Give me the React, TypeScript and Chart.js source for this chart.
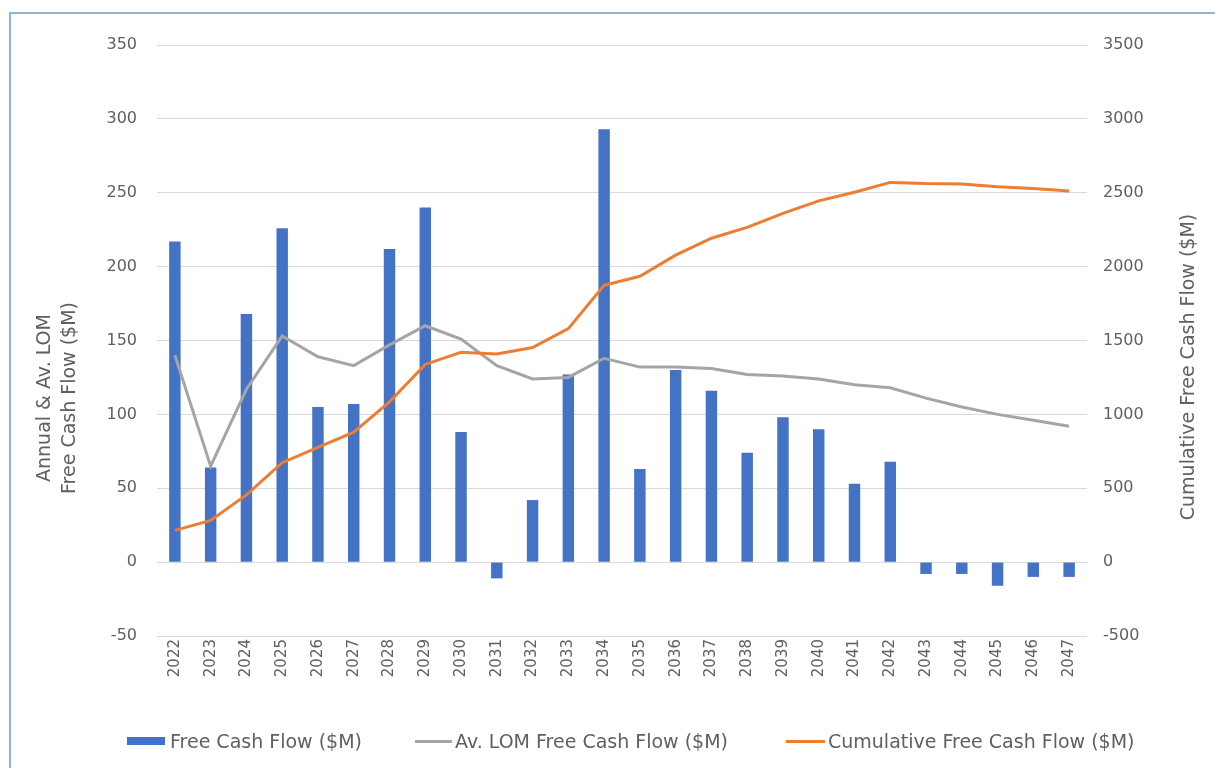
import React, { useEffect, useRef } from "react";
import { Chart, registerables } from "chart.js";

Chart.register(...registerables);

const years = [
  "2022", "2023", "2024", "2025", "2026", "2027", "2028", "2029", "2030", "2031", "2032", "2033", "2034",
  "2035", "2036", "2037", "2038", "2039", "2040", "2041", "2042", "2043", "2044", "2045", "2046", "2047",
];
const freeCashFlow = [217, 64, 168, 226, 105, 107, 212, 240, 88, -11, 42, 127, 293, 63, 130, 116, 74, 98, 90, 53, 68, -8, -8, -16, -10, -10];
const avLomFreeCashFlow = [140, 65, 117, 153, 139, 133, 147, 160, 151, 133, 124, 125, 138, 132, 132, 131, 127, 126, 124, 120, 118, 111, 105, 100, 96, 92];
const cumulativeFreeCashFlow = [215, 282, 455, 673, 776, 880, 1085, 1338, 1420, 1408, 1452, 1580, 1873, 1935, 2078, 2192, 2266, 2360, 2445, 2503, 2570, 2562, 2560, 2540, 2528, 2512];

const seriesNames = ["Free Cash Flow ($M)", "Av. LOM Free Cash Flow ($M)", "Cumulative Free Cash Flow ($M)"];
const leftTitle = ["Annual & Av. LOM", "Free Cash Flow ($M)"];
const rightTitle = "Cumulative Free Cash Flow ($M)";

const BLUE = "#4472C4";
const GREY = "#A5A5A5";
const ORANGE = "#ED7D31";
const TEXT = "#606060";
const FONT = "'DejaVu Sans', sans-serif";

const titlePlugin = {
  id: "axisTitles",
  afterDraw(chart: any) {
    const ctx = chart.ctx;
    ctx.save();
    ctx.fillStyle = TEXT;
    ctx.font = `19px ${FONT}`;
    ctx.textAlign = "center";
    ctx.textBaseline = "middle";
    ctx.translate(45, 398);
    ctx.rotate(-Math.PI / 2);
    ctx.fillText(leftTitle[0], 0, 0);
    ctx.fillText(leftTitle[1], 0, 25);
    ctx.restore();
    ctx.save();
    ctx.fillStyle = TEXT;
    ctx.font = `19px ${FONT}`;
    ctx.textAlign = "center";
    ctx.textBaseline = "middle";
    ctx.translate(1189, 367);
    ctx.rotate(-Math.PI / 2);
    ctx.fillText(rightTitle, 0, 0);
    ctx.restore();
  },
};

export default function App() {
  const ref = useRef<HTMLCanvasElement>(null);
  useEffect(() => {
    if (!ref.current) return;
    const chart = new Chart(ref.current, {
      type: "bar",
      data: {
        labels: years,
        datasets: [
          {
            type: "bar",
            label: seriesNames[0],
            data: freeCashFlow,
            backgroundColor: BLUE,
            yAxisID: "y",
            barPercentage: 0.32,
            categoryPercentage: 1,
            order: 3,
          },
          {
            type: "line",
            label: seriesNames[1],
            data: avLomFreeCashFlow,
            borderColor: GREY,
            backgroundColor: GREY,
            borderWidth: 3,
            pointRadius: 0,
            tension: 0,
            yAxisID: "y",
            order: 2,
          },
          {
            type: "line",
            label: seriesNames[2],
            data: cumulativeFreeCashFlow,
            borderColor: ORANGE,
            backgroundColor: ORANGE,
            borderWidth: 3,
            pointRadius: 0,
            tension: 0,
            yAxisID: "y1",
            order: 1,
          },
        ] as any,
      },
      options: {
        responsive: false,
        animation: false,
        layout: { padding: { top: 45, bottom: 82, left: 0, right: 0 } },
        plugins: {
          legend: { display: false },
          tooltip: { enabled: false },
        },
        scales: {
          x: {
            offset: true,
            grid: { display: false, drawTicks: false },
            border: { display: false },
            ticks: {
              color: TEXT,
              font: { family: FONT, size: 15 },
              minRotation: 90,
              maxRotation: 90,
              padding: 3,
              autoSkip: false,
            },
            afterFit: (s: any) => {
              s.height = 50;
            },
          },
          y: {
            position: "left",
            min: -50,
            max: 350,
            grid: { color: "#D9D9D9", lineWidth: 1, drawTicks: false },
            border: { display: false },
            ticks: {
              stepSize: 50,
              color: TEXT,
              font: { family: FONT, size: 16 },
              padding: 20,
              callback: (v: any) => String(v),
            },
            afterFit: (s: any) => {
              s.width = 157;
            },
          },
          y1: {
            position: "right",
            min: -500,
            max: 3500,
            grid: { display: false, drawTicks: false },
            border: { display: false },
            ticks: {
              stepSize: 500,
              color: TEXT,
              font: { family: FONT, size: 16 },
              padding: 16,
              callback: (v: any) => String(v),
            },
            afterFit: (s: any) => {
              s.width = 128;
            },
          },
        },
      },
      plugins: [titlePlugin],
    });
    return () => chart.destroy();
  }, []);

  const legendText: React.CSSProperties = {
    position: "absolute",
    top: 741,
    transform: "translateY(-50%)",
    fontFamily: FONT,
    fontSize: 19,
    color: TEXT,
    whiteSpace: "nowrap",
    lineHeight: 1,
  };
  const mark = (left: number, width: number, height: number, color: string): React.CSSProperties => ({
    position: "absolute",
    left,
    top: 741 - height / 2,
    width,
    height,
    background: color,
  });

  return (
    <div style={{ position: "fixed", left: 0, top: 0, width: 1215, height: 768, background: "#fff", overflow: "hidden" }}>
      <div
        style={{
          position: "absolute",
          left: 9,
          top: 12,
          width: 1204,
          height: 800,
          borderTop: "2px solid #8FB4D4",
          borderLeft: "2px solid #8FB4D4",
          borderRight: "1px solid #EEF3F7",
        }}
      />
      <canvas ref={ref} width={1215} height={768} style={{ position: "absolute", left: 0, top: 0 }} />
      <div style={mark(127, 38, 8, BLUE)} />
      <div style={{ ...legendText, left: 170 }}>{seriesNames[0]}</div>
      <div style={mark(415, 37, 3, GREY)} />
      <div style={{ ...legendText, left: 455 }}>{seriesNames[1]}</div>
      <div style={mark(786, 39, 3, ORANGE)} />
      <div style={{ ...legendText, left: 828 }}>{seriesNames[2]}</div>
    </div>
  );
}
